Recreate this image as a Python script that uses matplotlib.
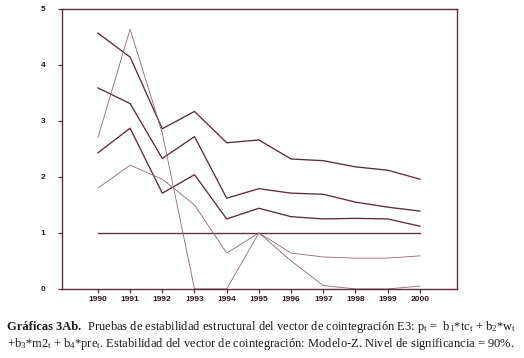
import matplotlib.pyplot as plt

plt.rcParams['mathtext.fontset'] = 'custom'
plt.rcParams['mathtext.rm'] = 'Liberation Serif'
plt.rcParams['mathtext.it'] = 'Liberation Serif:italic'

years = [1990, 1991, 1992, 1993, 1994, 1995, 1996, 1997, 1998, 1999, 2000]

# upper, middle and lower solid bands
upper = [4.57, 4.14, 2.86, 3.17, 2.61, 2.66, 2.32, 2.29, 2.18, 2.12, 1.96]
middle = [3.59, 3.31, 2.33, 2.72, 1.62, 1.79, 1.71, 1.69, 1.55, 1.46, 1.39]
lower = [2.43, 2.87, 1.71, 2.04, 1.25, 1.44, 1.29, 1.25, 1.26, 1.25, 1.12]
critical = [1.0] * 11

# thin lines
thin_a = [1.80, 2.21, 1.96, 1.50, 0.64, 1.0, 0.64, 0.57, 0.55, 0.55, 0.59]
thin_b = [2.70, 4.64, 2.78, 0.0, 0.0, 1.0, 0.50, 0.06, 0.0, 0.0, 0.05]

dark = '#5b2c3e'
light = '#8c6878'

fig = plt.figure(figsize=(5.24, 3.58), dpi=100)
ax = fig.add_axes([0.118, 0.193, 0.754, 0.782])

for s in [upper, middle, lower, critical]:
    ax.plot(years, s, color=dark, lw=0.95)
for s in [thin_a, thin_b]:
    ax.plot(years, s, color=light, lw=0.6)

ax.set_xlim(1988.88, 2001.15)
ax.set_ylim(0, 5)
ax.set_xticks(years)
ax.set_yticks([0, 1, 2, 3, 4, 5])
for sp in ax.spines.values():
    sp.set_color(dark)
    sp.set_linewidth(1.0)
ax.tick_params(axis='both', colors=dark, length=3, width=0.9, labelcolor='#2a1520')
ax.tick_params(axis='y', pad=9)
ax.tick_params(axis='x', pad=2)
for lab in ax.get_xticklabels() + ax.get_yticklabels():
    lab.set_fontfamily('Liberation Sans')
    lab.set_fontweight('bold')
    lab.set_fontsize(6)

cap = dict(fontfamily='Liberation Serif', fontsize=9, color='#1a1a1a', va='baseline')
t1 = fig.text(0.013, 0.078, 'Gráficas 3Ab.', fontweight='bold', **cap)
bb = t1.get_window_extent(renderer=fig.canvas.get_renderer())
x1 = fig.transFigure.inverted().transform((bb.x1, bb.y0))[0]
fig.text(x1, 0.078, r'  Pruebas de estabilidad estructural del vector de cointegración E3: p$_\mathrm{t}$ =  b$_1$*tc$_\mathrm{t}$ + b$_2$*w$_\mathrm{t}$',
         **cap)
fig.text(0.013, 0.03, r'+b$_3$*m2$_\mathrm{t}$ + b$_4$*pre$_\mathrm{t}$. Estabilidad del vector de cointegración: Modelo-Z. Nivel de significancia = 90%.',
         **cap)

fig.savefig('out.png', dpi=100)
